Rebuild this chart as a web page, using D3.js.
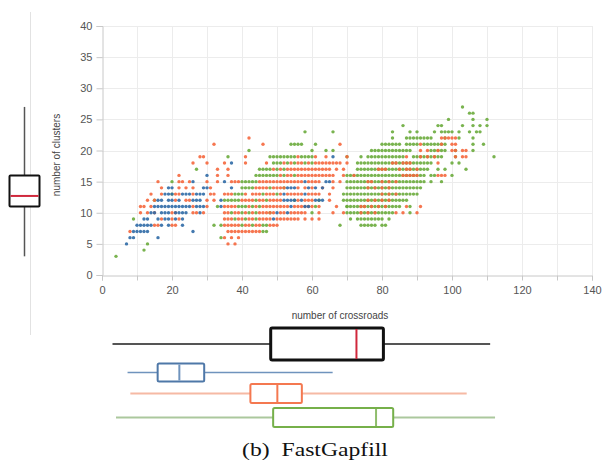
<!DOCTYPE html>
<html>
<head>
<meta charset="utf-8">
<script src="https://cdn.jsdelivr.net/npm/d3@7"></script>
<style>
  body { margin: 0; background: #fff; }
  .tick text { font-family: "Liberation Sans", Arial, sans-serif; font-size: 11px; fill: #555; }
</style>
</head>
<body>
<svg id="canvas"></svg>
<script>
// scatter rows: [clusters, [crossroads...]]
let greenRows = [
    [3, [4]], [4, [12]], [5, [13]], [6, [34]], [7, [46, 47]],
    [8, [32, 34, 40, 43, 46, 47, 68, 74, 75, 76, 77, 78, 80, 81]],
    [9, [9, 38, 41, 44, 71, 73, 74, 75, 76, 77, 78, 79, 80, 82]],
    [10, [37, 40, 42, 44, 48, 60, 70, 71, 72, 73, 74, 75, 76, 77, 78, 79, 80, 81, 82, 83, 88]],
    [11, [33, 39, 40, 41, 43, 45, 61, 70, 71, 72, 73, 74, 75, 76, 77, 78, 79, 80, 81, 82, 83, 84, 85, 88, 70]],
    [12, [15, 35, 36, 37, 38, 39, 44, 47, 55, 62, 69, 70, 71, 72, 73, 74, 75, 76, 77, 78, 79, 80, 81, 82, 83, 84, 85, 86, 87]],
    [13, [20, 38, 39, 40, 46, 50, 69, 70, 71, 72, 73, 74, 75, 76, 77, 78, 79, 80, 81, 82, 83, 84, 85, 86, 87, 88, 89, 90]],
    [14, [40, 41, 42, 43, 48, 52, 70, 71, 72, 73, 74, 75, 76, 77, 78, 79, 80, 81, 82, 83, 84, 85, 86, 87, 88, 89, 90, 91]],
    [15, [20, 40, 41, 42, 43, 44, 70, 71, 72, 73, 74, 75, 76, 77, 78, 79, 80, 81, 82, 83, 84, 85, 86, 87, 88, 89, 90, 91, 92, 94, 97]],
    [16, [44, 45, 46, 47, 48, 49, 50, 52, 55, 70, 71, 72, 73, 74, 75, 76, 77, 78, 79, 80, 81, 82, 83, 84, 85, 86, 87, 88, 89, 90, 91, 92, 94, 95, 100]],
    [17, [27, 45, 46, 47, 48, 50, 52, 73, 74, 75, 76, 77, 78, 79, 80, 81, 82, 83, 84, 85, 86, 87, 88, 89, 90, 91, 92, 93, 96, 98, 104]],
    [18, [49, 50, 51, 53, 55, 58, 60, 73, 74, 75, 76, 77, 78, 79, 80, 81, 82, 83, 84, 85, 86, 87, 88, 89, 90, 91, 92, 93, 94, 100, 102]],
    [19, [36, 48, 49, 50, 51, 52, 53, 54, 55, 57, 58, 59, 60, 70, 74, 76, 77, 78, 79, 80, 81, 82, 83, 84, 85, 86, 89, 90, 91, 92, 93, 94, 95, 96, 97, 101, 112]],
    [20, [42, 60, 64, 66, 77, 78, 79, 80, 81, 82, 83, 84, 85, 86, 87, 88, 94, 95, 96, 97, 98, 101, 106]],
    [21, [54, 55, 56, 57, 61, 80, 81, 82, 83, 84, 85, 87, 88, 89, 90, 92, 93, 94, 95, 96, 97, 98, 106, 109]],
    [22, [83, 87, 88, 89, 90, 91, 92, 93, 94, 98, 102, 106]],
    [23, [58, 66, 83, 88, 90, 95, 97, 98, 99, 100, 102, 105, 107, 108]],
    [24, [86, 96, 97, 103, 106, 108, 110]],
    [25, [99, 106, 110]], [26, [105, 106]], [27, [103]]
]

let orangeRows = [
    [5, [36, 38]], [6, [35, 37, 39]],
    [7, [8, 36, 37, 38, 39, 40, 41, 42, 43, 44, 45]],
    [8, [15, 16, 20, 21, 35, 36, 37, 38, 39, 41, 42, 44, 45, 48, 49, 50]],
    [9, [17, 20, 22, 35, 36, 37, 39, 40, 42, 43, 45, 46, 47, 48, 50, 51, 52, 53, 54, 55, 56, 58, 60, 62]],
    [10, [11, 13, 15, 20, 21, 26, 27, 29, 35, 36, 38, 39, 41, 43, 45, 46, 47, 48, 49, 51, 52, 54, 55, 56, 57, 58, 62, 66, 69, 74, 76, 78, 84, 86, 90]],
    [11, [11, 12, 14, 26, 30, 35, 36, 37, 38, 42, 44, 46, 47, 48, 49, 50, 51, 52, 53, 55, 56, 57, 58, 59, 60, 62, 67, 74, 75, 77, 79, 81, 87, 91]],
    [12, [13, 15, 21, 24, 25, 30, 32, 40, 41, 42, 43, 45, 46, 48, 49, 50, 51, 56, 58, 59, 60, 65, 76, 78, 80, 82]],
    [13, [14, 17, 21, 22, 26, 31, 32, 35, 36, 37, 41, 43, 44, 45, 47, 48, 49, 51, 53, 54, 55, 56, 57, 59, 60, 61, 62, 65, 80, 82, 84]],
    [14, [17, 22, 24, 26, 31, 44, 45, 46, 47, 49, 50, 51, 52, 56, 58, 60, 63, 66, 76, 78, 80, 82]],
    [15, [16, 22, 23, 25, 30, 33, 37, 38, 39, 45, 46, 47, 48, 49, 50, 51, 52, 53, 54, 55, 56, 57, 59, 60, 61, 62, 66, 68, 76, 77, 80, 82, 84]],
    [16, [22, 33, 36, 51, 53, 54, 56, 57, 58, 59, 60, 61, 62, 63, 64, 65, 66, 69, 72, 86, 87, 88, 89, 90, 96, 97, 98]],
    [17, [33, 36, 49, 51, 53, 54, 55, 56, 57, 58, 59, 60, 61, 62, 63, 64, 65, 67, 69, 79, 80, 81, 85, 87, 88, 90]],
    [18, [26, 30, 35, 41, 47, 52, 54, 56, 57, 59, 61, 62, 63, 64, 65, 66, 67, 68, 70, 83, 84, 86, 87, 88, 96]],
    [19, [28, 29, 41, 56, 61, 64, 70, 87, 91, 93, 95, 101, 103, 104]],
    [20, [91, 93, 96, 100, 101, 103, 104]],
    [21, [32, 46, 68, 91, 97, 100, 101]],
    [22, [42, 97, 98, 99, 100, 101]]
]

let blueRows = [
    [5, [7]], [6, [8, 9, 16]],
    [7, [9, 10, 11, 12, 13, 26]],
    [8, [10, 11, 12, 13, 14, 17, 19, 23]],
    [9, [12, 13, 16, 18, 19, 21, 23, 49]],
    [10, [14, 15, 17, 18, 19, 21, 22, 23, 24, 28, 50, 53]],
    [11, [15, 16, 17, 18, 19, 20, 21, 22, 23, 24, 25, 27, 28, 29, 34, 54, 58, 59]],
    [12, [16, 17, 19, 20, 22, 26, 27, 28, 34, 52, 53, 54, 55, 57, 61, 62, 63]],
    [13, [18, 19, 20, 23, 24, 25, 27, 28, 29, 52, 58]],
    [14, [19, 20, 29, 30, 37, 53, 54, 55, 59, 61, 63]],
    [15, [26, 35, 58, 64, 65]],
    [16, [30]], [18, [37]], [19, [66]]
]

// box plot stats: [min, q1, median, q3, max]
let clustersBox = [3, 11, 12.7, 16, 27]
let crossroadsBox = [3, 48.2, 72.7, 80.4, 110.9]
let blueBox = [7.3, 15.9, 22.1, 29.2, 65.9]
let orangeBox = [8.1, 42.4, 50.1, 57.1, 104.2]
let greenBox = [4, 48.9, 78.3, 83.2, 112.3]

let xTicks = [0, 20, 40, 60, 80, 100, 120, 140]
let yTicks = [0, 5, 10, 15, 20, 25, 30, 35, 40]

const width = 603, height = 462

let svg = d3.select("#canvas")
    .attr("width", width)
    .attr("height", height)

let x = d3.scaleLinear().domain([0, 140]).range([102, 592])
let y = d3.scaleLinear().domain([0, 40]).range([275, 26])

// grid
let grid = svg.append("g").attr("stroke", "#ececec").attr("stroke-width", 1)
grid.selectAll(".vg").data(d3.range(10, 150, 10))
    .enter().append("line")
    .attr("x1", d => x(d) + 0.5).attr("x2", d => x(d) + 0.5)
    .attr("y1", y(40)).attr("y2", y(0))
grid.selectAll(".hg").data(yTicks.slice(1))
    .enter().append("line")
    .attr("x1", x(0)).attr("x2", x(140))
    .attr("y1", d => Math.round(y(d)) + 0.5).attr("y2", d => Math.round(y(d)) + 0.5)

// axes
let xAxis = svg.append("g")
    .attr("transform", "translate(0," + (y(0) + 0.5) + ")")
    .call(d3.axisBottom(x).tickValues(d3.range(0, 150, 10)).tickSize(5).tickPadding(6)
        .tickFormat(d => xTicks.includes(d) ? d : ""))
xAxis.select(".domain").attr("stroke", "#c8c8c8")
xAxis.selectAll(".tick line").attr("stroke", "#c8c8c8")

let yAxis = svg.append("g")
    .attr("transform", "translate(" + (x(0) + 0.5) + ",0)")
    .call(d3.axisLeft(y).tickValues(yTicks).tickSize(6).tickPadding(4))
yAxis.select(".domain").attr("stroke", "#c8c8c8")
yAxis.selectAll(".tick line").attr("stroke", "#c8c8c8")

svg.append("text")
    .attr("x", 340).attr("y", 319)
    .attr("text-anchor", "middle")
    .style("font-family", "Liberation Sans, Arial, sans-serif")
    .style("font-size", "10px").attr("fill", "#444")
    .text("number of crossroads")

svg.append("text")
    .attr("transform", "translate(60,155) rotate(-90)")
    .attr("text-anchor", "middle")
    .style("font-family", "Liberation Sans, Arial, sans-serif")
    .style("font-size", "10px").attr("fill", "#444")
    .text("number of clusters")

// scatter
let series = [
    {rows: greenRows, color: "#6aab3c"},
    {rows: orangeRows, color: "#f5673d"},
    {rows: blueRows, color: "#2f6aa6"}
]
series.forEach(s => {
    let pts = []
    s.rows.forEach(r => r[1].forEach(v => pts.push({x: v, y: r[0]})))
    svg.append("g").selectAll("circle").data(pts)
        .enter().append("circle")
        .attr("cx", d => x(d.x))
        .attr("cy", d => y(d.y))
        .attr("r", 1.7)
        .attr("fill", s.color)
        .attr("opacity", 0.9)
})

// left vertical box plot
svg.append("line")
    .attr("x1", 30.5).attr("x2", 30.5).attr("y1", 12).attr("y2", 335)
    .attr("stroke", "#e2e2e2").attr("stroke-width", 1)

let vb = svg.append("g")
vb.append("line")
    .attr("x1", 24.5).attr("x2", 24.5)
    .attr("y1", y(clustersBox[0])).attr("y2", y(clustersBox[4]))
    .attr("stroke", "#555").attr("stroke-width", 1.5)
vb.append("rect")
    .attr("x", 9.5).attr("width", 30)
    .attr("y", y(clustersBox[3])).attr("height", y(clustersBox[1]) - y(clustersBox[3]))
    .attr("rx", 1)
    .attr("fill", "#fff").attr("stroke", "#111").attr("stroke-width", 2)
vb.append("line")
    .attr("x1", 10.5).attr("x2", 38.5)
    .attr("y1", y(clustersBox[2])).attr("y2", y(clustersBox[2]))
    .attr("stroke", "#d0283c").attr("stroke-width", 2)

// bottom horizontal box plots
let hBoxes = [
    {stats: crossroadsBox, cy: 344, h: 32, box: "#111", whisker: "#555", med: "#d0283c", bw: 3, ww: 2},
    {stats: blueBox, cy: 372.5, h: 18, box: "#4f78a8", whisker: "#6f93bd", med: "#6f93bd", bw: 2, ww: 1.5},
    {stats: orangeBox, cy: 393.5, h: 19, box: "#f47850", whisker: "#f6b9a4", med: "#f47850", bw: 2, ww: 2},
    {stats: greenBox, cy: 417.5, h: 19, box: "#76b04a", whisker: "#abc89d", med: "#8fbd6c", bw: 2, ww: 2}
]
hBoxes.forEach(b => {
    let g = svg.append("g")
    g.append("line")
        .attr("x1", x(b.stats[0])).attr("x2", x(b.stats[4]))
        .attr("y1", b.cy).attr("y2", b.cy)
        .attr("stroke", b.whisker).attr("stroke-width", b.ww)
    g.append("rect")
        .attr("x", x(b.stats[1])).attr("width", x(b.stats[3]) - x(b.stats[1]))
        .attr("y", b.cy - b.h / 2).attr("height", b.h)
        .attr("rx", 1.5)
        .attr("fill", "#fff").attr("stroke", b.box).attr("stroke-width", b.bw)
    g.append("line")
        .attr("x1", x(b.stats[2])).attr("x2", x(b.stats[2]))
        .attr("y1", b.cy - b.h / 2 + 1).attr("y2", b.cy + b.h / 2 - 1)
        .attr("stroke", b.med).attr("stroke-width", 2)
})

// caption (the figure is a bit stretched sideways, so stretch the text to match)
let caption = svg.append("text")
    .attr("text-anchor", "middle")
    .style("font-family", "Liberation Serif, serif")
    .style("font-size", "19px").attr("fill", "#111")
    .style("white-space", "pre")
    .text("(b)  FastGapfill")
let natural = caption.node().getComputedTextLength()
let sx = 146 / natural
caption.attr("transform", "translate(315,456) scale(" + sx + ",1)")
</script>
</body>
</html>
